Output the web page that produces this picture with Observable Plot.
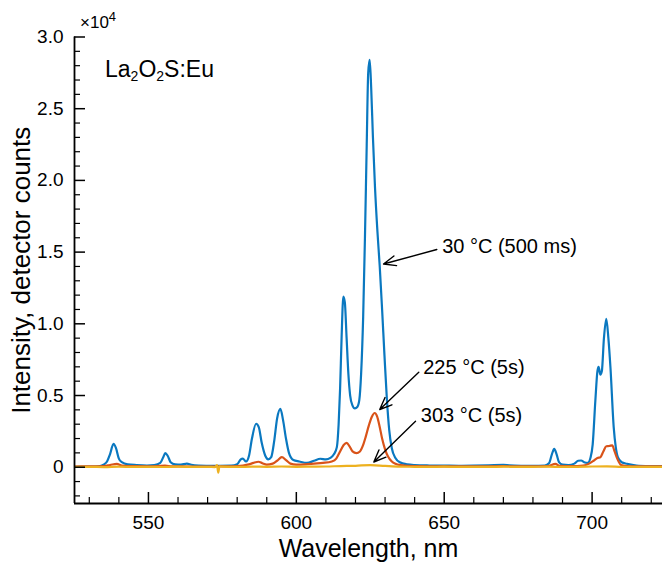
<!DOCTYPE html>
<html>
<head>
<meta charset="utf-8">
<script src="https://cdn.jsdelivr.net/npm/d3@7"></script>
<script src="https://cdn.jsdelivr.net/npm/@observablehq/plot@0.6"></script>
<style>
  html, body { margin: 0; padding: 0; background: #fff; }
  svg { display: block; }
</style>
</head>
<body>
<div id="chart"></div>
<script>
// Emission spectra of La2O2S:Eu at three temperatures (wavelength in nm, detector counts)
const wl30 = [525, 530, 533, 535, 536, 537, 538.2, 539, 540, 541, 543, 546, 549.5, 552, 554, 555, 555.7, 556.5, 557.5, 559, 561, 563, 564.5, 567, 572, 578, 580, 581.2, 581.9, 583, 584, 585, 586.4, 587.3, 588.3, 589.5, 590.5, 591.5, 592.5, 593.5, 594.6, 595.5, 596.5, 597.5, 599, 601, 603.6, 606, 608.1, 610, 611.5, 612.7, 613.7, 614.3, 614.8, 615.3, 615.9, 616.4, 617, 617.6, 618.2, 619, 619.8, 620.6, 621.3, 621.9, 622.6, 623.2, 623.8, 624.3, 624.8, 625.3, 625.9, 626.6, 627.4, 628.2, 629, 629.8, 630.6, 631.4, 632.3, 633.5, 635, 637.5, 640, 645, 650, 655, 660, 665, 670, 672, 676, 680, 684, 685.5, 686.4, 687.2, 688, 688.8, 690, 692, 694, 695.3, 696.3, 697.3, 698.5, 699.5, 700.2, 701.1, 701.8, 702.2, 702.8, 703.3, 704, 704.8, 705.5, 706.2, 707.3, 708, 708.7, 710, 711.8, 715, 720, 724];
const counts30 = [30, 40, 60, 200, 400, 900, 1630, 1350, 600, 350, 200, 150, 120, 150, 300, 700, 980, 800, 350, 200, 180, 250, 170, 120, 100, 110, 200, 550, 600, 400, 800, 2000, 3030, 2800, 1700, 800, 550, 700, 1800, 3400, 4070, 3300, 2000, 1000, 500, 400, 300, 450, 590, 550, 650, 900, 1400, 3000, 5500, 9000, 11900, 11500, 9000, 6500, 5000, 4300, 4100, 4200, 4700, 6500, 10500, 16000, 22500, 27500, 28400, 26500, 23000, 19500, 16500, 14000, 11000, 7800, 4800, 2600, 1300, 650, 350, 200, 150, 120, 110, 100, 110, 130, 160, 130, 100, 90, 120, 300, 900, 1280, 900, 350, 180, 150, 250, 450, 470, 350, 300, 700, 1600, 4650, 6700, 7000, 6450, 6700, 9000, 10350, 9000, 6970, 2800, 1400, 700, 350, 240, 120, 80, 70];

const wl225 = [525, 530, 535, 537, 539.3, 541, 545, 550, 555.6, 558, 565, 570, 575, 580, 582, 584, 585.5, 587.2, 588.5, 590, 592, 593.5, 595.1, 596.5, 598, 600, 603, 606, 609, 612, 613.5, 614.8, 616, 617, 618, 619, 620.3, 621.5, 622.5, 623.5, 624.5, 625.5, 626.5, 627.3, 628.1, 629, 630, 631, 632.2, 633.5, 635.2, 640, 650, 660, 670, 680, 685, 687.6, 689, 693, 697, 699, 700.5, 701.8, 702.8, 703.8, 704.8, 705.8, 706.8, 707.6, 708.5, 709.8, 712, 718, 724];
const counts225 = [50, 60, 80, 150, 240, 120, 70, 60, 110, 60, 50, 50, 60, 80, 120, 200, 300, 380, 280, 180, 250, 450, 700, 500, 250, 180, 200, 250, 300, 400, 600, 1100, 1550, 1700, 1450, 1100, 980, 1100, 1500, 2150, 2900, 3500, 3780, 3550, 2900, 2000, 1250, 750, 420, 240, 150, 80, 60, 60, 70, 60, 80, 240, 90, 70, 120, 250, 450, 650, 700, 1100, 1460, 1480, 1530, 1100, 600, 150, 70, 60, 60];

const wl303 = [525, 530, 535, 540, 545, 550, 555, 560, 565, 570, 572.5, 573.2, 573.6, 574, 575, 580, 585, 590, 595, 600, 605, 610, 615, 620, 625, 630, 635, 640, 645, 650, 655, 660, 665, 670, 675, 680, 685, 690, 695, 700, 705, 710, 715, 720, 724];
const counts303 = [20, 30, 10, 40, 20, 30, 15, 35, 20, 30, 10, 150, -380, 60, 40, 20, 40, 30, 50, 30, 40, 50, 80, 100, 150, 90, 40, 30, 20, 40, 20, 30, 20, 40, 20, 30, 40, 20, 30, 50, 60, 30, 20, 30, 20];

// Axis ticks
const xMajor = [550, 600, 650, 700];
const xMinor = [530, 540, 560, 570, 580, 590, 610, 620, 630, 640, 660, 670, 680, 690, 710, 720];
const yMajor = [0, 5000, 10000, 15000, 20000, 25000, 30000];
const yMinor = [-2000, -1000, 1000, 2000, 3000, 4000, 6000, 7000, 8000, 9000, 11000, 12000, 13000, 14000, 16000, 17000, 18000, 19000, 21000, 22000, 23000, 24000, 26000, 27000, 28000, 29000];

// Callout labels with their arrows (data units)
const calloutText = ["30 °C (500 ms)", "225 °C (5s)", "303 °C (5s)"];
const calloutTextX = [649.3, 642.9, 642.1];
const calloutTextY = [15390, 6953, 3570];
const arrowFromX = [647.5, 641.4, 640.3];
const arrowFromY = [15180, 6625, 3208];
const arrowToX = [629.5, 628.2, 626.2];
const arrowToY = [14170, 4024, 363];

const toRows = (xs, ys) => xs.map((x, i) => ({x, y: ys[i]}));
const callouts = calloutText.map((t, i) => ({
  t, tx: calloutTextX[i], ty: calloutTextY[i],
  x1: arrowFromX[i], y1: arrowFromY[i], x2: arrowToX[i], y2: arrowToY[i]
}));

const W = 662, H = 570;
const mL = 74, mR = 0, mT = 36.5, mB = 67;
const innerW = W - mL - mR, innerH = H - mT - mB;
const xDom = [525, 723.8], yDom = [-2530, 30000];
const font = "'Liberation Sans', Arial, Helvetica, sans-serif";

const blue = "#0a78c0", red = "#d95319", yellow = "#edb120";

const plot = Plot.plot({
  width: W, height: H,
  marginLeft: mL, marginRight: mR, marginTop: mT, marginBottom: mB,
  style: {fontFamily: font, background: "#fff", color: "#000"},
  x: {domain: xDom},
  y: {domain: yDom},
  marks: [
    Plot.line(toRows(wl30, counts30), {x: "x", y: "y", stroke: blue, strokeWidth: 2.2, curve: "monotone-x", clip: true}),
    Plot.line(toRows(wl225, counts225), {x: "x", y: "y", stroke: red, strokeWidth: 2.2, curve: "monotone-x", clip: true}),
    Plot.line(toRows(wl303, counts303), {x: "x", y: "y", stroke: yellow, strokeWidth: 2.2, curve: "monotone-x", clip: true}),

    // inward ticks
    Plot.ruleX(xMajor, {x: d => d, insetTop: innerH - 11, stroke: "#000", strokeWidth: 1.5}),
    Plot.ruleX(xMinor, {x: d => d, insetTop: innerH - 6, stroke: "#000", strokeWidth: 1.2}),
    Plot.ruleY(yMajor, {y: d => d, insetRight: innerW - 11, stroke: "#000", strokeWidth: 1.5}),
    Plot.ruleY(yMinor, {y: d => d, insetRight: innerW - 6, stroke: "#000", strokeWidth: 1.2}),

    // axis lines
    Plot.ruleX([xDom[0]], {stroke: "#000", strokeWidth: 1.8}),
    Plot.ruleY([yDom[0]], {stroke: "#000", strokeWidth: 1.8}),

    Plot.axisX(xMajor, {tickSize: 0, tickPadding: 12, fontSize: 19, label: null}),
    Plot.axisY(yMajor, {tickSize: 0, tickPadding: 11, fontSize: 19, label: null,
      tickFormat: d => d === 0 ? "0" : (d / 1e4).toFixed(1)}),

    Plot.text(["Wavelength, nm"], {frameAnchor: "bottom", dy: 45, fontSize: 25, lineAnchor: "middle", fill: "#000"}),
    Plot.text(["Intensity, detector counts"], {frameAnchor: "left", dx: -53, rotate: -90, textAnchor: "middle", fontSize: 26, lineAnchor: "middle", fill: "#000"}),

    Plot.arrow(callouts, {x1: "x1", y1: "y1", x2: "x2", y2: "y2", stroke: "#000", strokeWidth: 1.4, headLength: 14, headAngle: 45}),
    Plot.text(callouts, {x: "tx", y: "ty", text: "t", textAnchor: "start", lineAnchor: "middle", fontSize: 20, fill: "#000"})
  ]
});

document.getElementById("chart").appendChild(plot);

// Exponent of the y axis and the sample name, which need sub/superscripts
const svg = d3.select(plot);
const exp = svg.append("text").attr("x", 80).attr("y", 28).attr("text-anchor", "start")
  .attr("font-family", font).attr("font-size", 17).attr("fill", "#000");
exp.append("tspan").text("×10");
exp.append("tspan").attr("font-size", 13).attr("dy", -7).text("4");

const name = svg.append("text").attr("x", 105).attr("y", 77).attr("text-anchor", "start")
  .attr("font-family", font).attr("font-size", 23).attr("fill", "#000");
name.append("tspan").text("La");
name.append("tspan").attr("font-size", 14).attr("dy", 4).text("2");
name.append("tspan").attr("dy", -4).text("O");
name.append("tspan").attr("font-size", 14).attr("dy", 4).text("2");
name.append("tspan").attr("dy", -4).text("S:Eu");
</script>
</body>
</html>
